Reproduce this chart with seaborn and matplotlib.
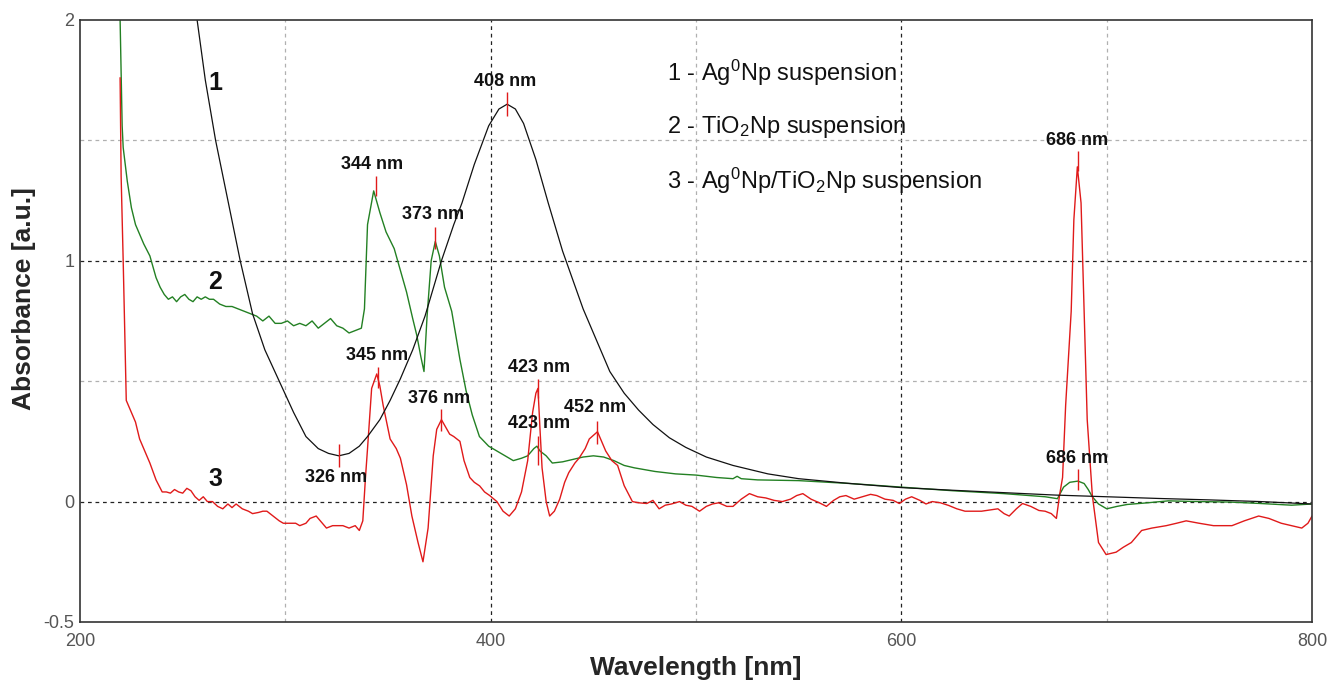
import numpy as np
import pandas as pd
import matplotlib
matplotlib.use("Agg")
import matplotlib.pyplot as plt
import seaborn as sns
from matplotlib.ticker import FixedLocator

# ---------------- data ----------------
wl_1 = [254, 257, 261, 266, 272, 278, 284, 290, 297, 304, 310, 316, 321, 326, 331, 336, 340,
        346, 351, 356, 362, 368, 376, 382, 386, 392, 399, 404, 408, 412, 416, 422, 428, 435,
        445, 452, 458, 465, 472, 479, 487, 495, 505, 518, 535, 550, 575, 600, 625, 650, 675,
        700, 725, 750, 775, 800]
abs_1 = [2.15, 2.0, 1.75, 1.50, 1.25, 1.0, 0.78, 0.63, 0.50, 0.37, 0.27, 0.22, 0.20, 0.19,
         0.20, 0.23, 0.27, 0.34, 0.42, 0.51, 0.63, 0.77, 1.00, 1.15, 1.24, 1.40, 1.56, 1.63,
         1.65, 1.63, 1.57, 1.42, 1.24, 1.04, 0.80, 0.66, 0.54, 0.45, 0.38, 0.32, 0.265, 0.225,
         0.185, 0.15, 0.115, 0.095, 0.075, 0.058, 0.047, 0.037, 0.027, 0.02, 0.013, 0.007,
         0.0, -0.01]

wl_2 = [219, 219.5, 220.5, 221, 223, 225, 227, 229, 231, 234, 237, 239, 241, 243, 245, 247,
        249, 251, 253, 255, 257, 259, 261, 263, 265, 268, 271, 274, 277, 280, 283, 286, 289,
        292, 295, 298, 301, 304, 307, 310, 313, 316, 319, 322, 325, 328, 331, 334, 337, 338.5,
        340, 343, 346, 349, 353, 356, 359, 362, 364, 366, 367.5, 369, 371, 373, 375, 377.5,
        381, 385, 388, 391, 394.5, 399, 403, 407, 411, 415, 418, 421, 422.5, 424, 427, 430,
        435, 440, 445, 450, 455, 460, 465, 470, 480, 490, 500, 510, 518, 520, 522, 530, 550,
        575, 600, 625, 650, 670, 676, 679, 682, 686, 689, 691, 693, 696, 700, 705, 710, 720,
        730, 745, 760, 775, 790, 800]
abs_2 = [2.1, 2.0, 1.56, 1.47, 1.33, 1.22, 1.15, 1.11, 1.07, 1.02, 0.93, 0.89, 0.86, 0.84,
         0.85, 0.83, 0.85, 0.86, 0.84, 0.83, 0.85, 0.84, 0.85, 0.84, 0.84, 0.82, 0.81, 0.81,
         0.80, 0.79, 0.78, 0.77, 0.75, 0.77, 0.74, 0.74, 0.75, 0.73, 0.74, 0.73, 0.75, 0.72,
         0.74, 0.76, 0.73, 0.72, 0.70, 0.71, 0.72, 0.80, 1.15, 1.29, 1.20, 1.12, 1.05, 0.96,
         0.87, 0.76, 0.69, 0.60, 0.54, 0.77, 1.00, 1.08, 1.02, 0.89, 0.79, 0.59, 0.46, 0.36,
         0.27, 0.23, 0.21, 0.19, 0.17, 0.18, 0.19, 0.22, 0.23, 0.21, 0.19, 0.16, 0.165, 0.175,
         0.185, 0.19, 0.185, 0.17, 0.15, 0.14, 0.125, 0.115, 0.11, 0.10, 0.095, 0.105, 0.095,
         0.09, 0.087, 0.075, 0.06, 0.045, 0.033, 0.02, 0.012, 0.06, 0.08, 0.085, 0.075, 0.05,
         0.02, -0.01, -0.03, -0.02, -0.012, -0.005, 0.003, 0.0, -0.002, -0.008, -0.015, -0.01]

wl_3 = [219.5, 220, 221, 222, 222.5, 223, 225, 227, 229, 231, 234, 237, 240, 242, 244, 246,
        248, 250, 252, 254, 256, 258, 260, 262, 264.5, 267, 269.5, 272, 274, 276, 279, 282,
        284, 287, 289, 291, 294, 297, 299, 302, 305, 307, 310, 312, 315, 317, 320, 323, 326,
        328, 331, 334, 336, 337.7, 339, 340, 342, 344.5, 346, 347.6, 351, 354, 356, 359,
        361.6, 364.6, 367, 369.5, 372, 373.7, 376, 378, 380, 382, 385, 387, 389.8, 392,
        394.6, 397, 399.5, 403, 406, 409, 412, 415, 418, 420.4, 422, 423, 424, 425, 427,
        428.7, 431, 433.6, 436, 438, 441, 443, 446, 448, 452, 454, 456, 459, 461.8, 465, 469,
        472, 476, 479, 482, 485, 488, 492, 495, 498, 501.7, 505, 508, 511, 515, 518, 522,
        526, 530, 534, 538, 542, 546, 549, 552, 556, 560, 563.5, 567, 570, 573, 577, 581,
        585, 588, 592, 596, 599, 602, 605, 609, 612, 615, 619, 623, 627, 631, 635, 639, 643,
        647, 650, 652.5, 656, 659, 663, 667, 670, 673, 675.5, 677, 678.5, 680, 682.7, 684,
        685.7, 687.5, 689, 690.5, 693, 696, 699.7, 704.6, 708, 712, 717, 722, 729, 734,
        738.7, 745, 752, 761, 767, 774, 779, 785, 790, 795, 798, 800]
abs_3 = [1.76, 1.35, 1.0, 0.6, 0.42, 0.41, 0.37, 0.33, 0.26, 0.22, 0.16, 0.09, 0.04, 0.04,
         0.035, 0.05, 0.04, 0.035, 0.055, 0.045, 0.02, 0.005, 0.02, 0.0, 0.0, -0.02, -0.03,
         -0.01, -0.025, -0.01, -0.03, -0.04, -0.05, -0.045, -0.04, -0.04, -0.06, -0.08, -0.09,
         -0.09, -0.09, -0.10, -0.09, -0.07, -0.06, -0.08, -0.11, -0.10, -0.10, -0.10, -0.11,
         -0.10, -0.12, -0.08, 0.10, 0.22, 0.47, 0.53, 0.48, 0.40, 0.26, 0.22, 0.18, 0.07,
         -0.06, -0.17, -0.25, -0.11, 0.19, 0.30, 0.34, 0.31, 0.28, 0.27, 0.25, 0.17, 0.10,
         0.08, 0.065, 0.04, 0.025, 0.0, -0.04, -0.06, -0.03, 0.04, 0.17, 0.37, 0.45, 0.47,
         0.30, 0.14, 0.0, -0.06, -0.04, 0.01, 0.08, 0.12, 0.16, 0.18, 0.22, 0.26, 0.29, 0.25,
         0.21, 0.17, 0.15, 0.066, 0.0, -0.005, -0.008, 0.005, -0.03, -0.015, -0.01, 0.0,
         -0.015, -0.02, -0.04, -0.02, -0.01, -0.005, -0.02, -0.02, 0.01, 0.033, 0.02, 0.015,
         0.005, 0.0, 0.01, 0.025, 0.033, 0.01, -0.005, -0.02, 0.005, 0.02, 0.025, 0.01, 0.02,
         0.03, 0.025, 0.01, 0.005, -0.008, 0.01, 0.02, 0.005, -0.01, 0.0, -0.005, -0.016,
         -0.03, -0.04, -0.04, -0.04, -0.035, -0.03, -0.05, -0.06, -0.03, -0.008, -0.02,
         -0.037, -0.04, -0.05, -0.07, 0.025, 0.10, 0.40, 0.79, 1.17, 1.39, 1.24, 0.79, 0.34,
         0.025, -0.17, -0.22, -0.21, -0.19, -0.17, -0.12, -0.11, -0.10, -0.09, -0.08, -0.09,
         -0.10, -0.10, -0.08, -0.06, -0.07, -0.09, -0.10, -0.11, -0.09, -0.06]

# peak annotations: label, text x, text y, tick x, tick bottom, tick top
peak_labels = ["408 nm", "344 nm", "373 nm", "345 nm", "376 nm", "423 nm", "423 nm",
               "452 nm", "326 nm", "686 nm", "686 nm"]
peak_text_x = [406.8, 342.0, 371.8, 344.5, 375.0, 423.4, 423.4, 451.0, 324.6, 685.6, 685.6]
peak_text_y = [1.745, 1.40, 1.19, 0.606, 0.427, 0.556, 0.324, 0.39, 0.10, 1.50, 0.178]
tick_x = [408, 344, 373, 345, 376, 423, 423, 452, 326, 686, 686]
tick_lo = [1.60, 1.27, 1.05, 0.47, 0.295, 0.43, 0.15, 0.24, 0.145, 1.373, 0.046]
tick_hi = [1.70, 1.35, 1.14, 0.56, 0.386, 0.51, 0.274, 0.336, 0.24, 1.456, 0.137]

curve_ids = ["1", "2", "3"]
curve_id_x = [265.7, 265.7, 265.7]
curve_id_y = [1.74, 0.913, 0.095]

legend_lines = [r"1 - Ag$^{0}$Np suspension",
                r"2 - TiO$_{2}$Np suspension",
                r"3 - Ag$^{0}$Np/TiO$_{2}$Np suspension"]
legend_x = 486
legend_y = [1.78, 1.556, 1.33]

x_ticks = [200, 400, 600, 800]
y_ticks = [-0.5, 0, 1, 2]
y_tick_labels = ["-0.5", "0", "1", "2"]

# ---------------- styling ----------------
sns.set_style("white")
plt.rcParams['font.family'] = ['Liberation Sans', 'DejaVu Sans']
plt.rcParams['mathtext.fontset'] = 'custom'
plt.rcParams['mathtext.rm'] = 'Liberation Sans'
plt.rcParams['mathtext.it'] = 'Liberation Sans'
plt.rcParams['mathtext.bf'] = 'Liberation Sans:bold'

fig = plt.figure(figsize=(13.3, 6.86), dpi=100)
ax = fig.add_axes([0.0602, 0.0933, 0.9263, 0.8777])

df1 = pd.DataFrame({"wl": wl_1, "a": abs_1})
df2 = pd.DataFrame({"wl": wl_2, "a": abs_2})
df3 = pd.DataFrame({"wl": wl_3, "a": abs_3})

c_black = "#111111"
c_green = "#238023"
c_red = "#e01a1a"

ax.set_xlim(200, 800)
ax.set_ylim(-0.5, 2)

# grid
for xv in [300, 500, 700]:
    ax.axvline(xv, color="#b0b0b0", lw=0.9, ls=(0, (3, 3)), zorder=0)
for xv in [400, 600]:
    ax.axvline(xv, color="#222222", lw=0.9, ls=(0, (3, 3)), zorder=0)
for yv in [0.5, 1.5]:
    ax.axhline(yv, color="#b0b0b0", lw=0.9, ls=(0, (3, 3)), zorder=0)
for yv in [0, 1]:
    ax.axhline(yv, color="#222222", lw=0.9, ls=(0, (3, 3)), zorder=0)

sns.lineplot(data=df2, x="wl", y="a", color=c_green, lw=1.0, ax=ax, sort=False)
sns.lineplot(data=df3, x="wl", y="a", color=c_red, lw=1.0, ax=ax, sort=False)
sns.lineplot(data=df1, x="wl", y="a", color=c_black, lw=0.9, ax=ax, sort=False)

# peak ticks and labels
ax.vlines(tick_x, tick_lo, tick_hi, color=c_red, lw=1.0, zorder=5)
for lab, tx, ty in zip(peak_labels, peak_text_x, peak_text_y):
    ax.text(tx, ty, lab, ha="center", va="center", fontsize=13, fontweight="bold",
            color="#111111", zorder=6)

for cid, cx, cy in zip(curve_ids, curve_id_x, curve_id_y):
    ax.text(cx, cy, cid, ha="center", va="center", fontsize=18, fontweight="bold",
            color="#111111")

for txt, ly in zip(legend_lines, legend_y):
    ax.text(legend_x, ly, txt, ha="left", va="center", fontsize=17, color="#111111")

ax.xaxis.set_major_locator(FixedLocator(x_ticks))
ax.yaxis.set_major_locator(FixedLocator(y_ticks))
ax.set_yticklabels(y_tick_labels)
ax.tick_params(axis="both", length=0, labelsize=13, labelcolor="#555555")
ax.tick_params(axis="x", pad=8)
ax.tick_params(axis="y", pad=4)

ax.set_xlabel("Wavelength [nm]", fontsize=19, fontweight="bold", labelpad=4)
ax.set_ylabel("Absorbance [a.u.]", fontsize=19, fontweight="bold")
ax.yaxis.set_label_coords(-0.0357, 0.537)

for s in ax.spines.values():
    s.set_visible(True)
    s.set_color("#333333")
    s.set_linewidth(1.2)

fig.savefig("out.png", dpi=100, facecolor="white")
